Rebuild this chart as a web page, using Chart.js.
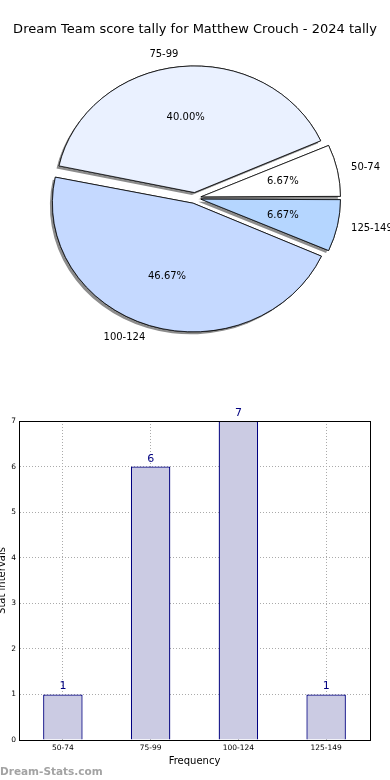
<!DOCTYPE html>
<html>
<head>
<meta charset="utf-8">
<script src="https://cdn.jsdelivr.net/npm/chart.js@4"></script>
<style>
  html, body { margin: 0; padding: 0; background: #fff; }
  body { width: 390px; height: 780px; position: relative; overflow: hidden; }
  #pieWrap { position: absolute; left: 0; top: 0; width: 390px; height: 370px; }
  #barWrap { position: absolute; left: 0; top: 380px; width: 390px; height: 400px; }
</style>
</head>
<body>
<div id="pieWrap"><canvas id="pieChart" width="390" height="370"></canvas></div>
<div id="barWrap"><canvas id="barChart" width="390" height="400"></canvas></div>
<script>
const TITLE = 'Dream Team score tally for Matthew Crouch - 2024 tally';
const categories = ['50-74', '75-99', '100-124', '125-149'];
const counts = [1, 6, 7, 1];
const yTickMax = 7;

const FONT = '"DejaVu Sans", sans-serif';
const sliceColors = ['#ffffff', '#eaf1ff', '#c5d9ff', '#b5d6ff'];
const SY = 0.914; // matplotlib pie came out a bit squashed

// matplotlib draws counter-clockwise from 3 o'clock, chart.js clockwise,
// so feed the slices in reverse and start at 3 o'clock
const pieLabels = categories.slice().reverse();
const pieData = counts.slice().reverse();
const pieColors = sliceColors.slice().reverse();

const pieLook = {
  id: 'pieLook',
  beforeDatasetsDraw(chart) {
    const meta = chart.getDatasetMeta(0);
    const arc = meta.data[0];
    const ctx = chart.ctx;
    ctx.save();
    ctx.translate(arc.x, arc.y);
    ctx.scale(1, SY);
    ctx.translate(-arc.x, -arc.y);
    // first pass just for the drop shadows, the normal pass covers it
    ctx.save();
    ctx.shadowColor = 'rgba(0,0,0,0.45)';
    ctx.shadowOffsetX = -2.5;
    ctx.shadowOffsetY = 2.5;
    ctx.shadowBlur = 0;
    ctx.stroke = function () {
      const c = this.shadowColor;
      this.shadowColor = 'rgba(0,0,0,0)';
      CanvasRenderingContext2D.prototype.stroke.apply(this, arguments);
      this.shadowColor = c;
    };
    meta.data.forEach(a => a.draw(ctx));
    delete ctx.stroke;
    ctx.restore();
  },
  afterDatasetsDraw(chart) {
    const ctx = chart.ctx;
    ctx.restore();
    const meta = chart.getDatasetMeta(0);
    const data = chart.data.datasets[0].data;
    const total = data.reduce((a, b) => a + b, 0);
    ctx.save();
    ctx.fillStyle = '#000';
    ctx.textBaseline = 'middle';
    ctx.font = '10px ' + FONT;
    meta.data.forEach((arc, i) => {
      const p = arc.getProps(['x', 'y', 'startAngle', 'endAngle', 'outerRadius', 'circumference']);
      const mid = (p.startAngle + p.endAngle) / 2;
      const off = (arc.options.offset || 0) / 4;
      const r = p.outerRadius + off * (1 - Math.sin(Math.min(Math.PI, p.circumference)));
      const px = k => p.x + Math.cos(mid) * (off + r * k);
      const py = k => p.y + Math.sin(mid) * (off + r * k) * SY;
      ctx.textAlign = 'center';
      ctx.fillText((data[i] / total * 100).toFixed(2) + '%', px(0.6), py(0.6));
      ctx.textAlign = Math.cos(mid) > 0 ? 'left' : 'right';
      ctx.fillText(chart.data.labels[i], px(1.1), py(1.1));
    });
    ctx.font = '13px ' + FONT;
    ctx.textAlign = 'center';
    ctx.fillText(TITLE, 195, 30);
    ctx.restore();
  }
};

new Chart(document.getElementById('pieChart'), {
  type: 'pie',
  data: {
    labels: pieLabels,
    datasets: [{
      data: pieData,
      backgroundColor: pieColors,
      borderColor: '#000',
      borderWidth: 0.8,
      offset: 24
    }]
  },
  options: {
    responsive: false,
    animation: false,
    rotation: 90,
    radius: 136,
    layout: { padding: { top: 38, left: 2, right: 2, bottom: 12 } },
    plugins: { legend: { display: false }, tooltip: { enabled: false } },
    events: []
  },
  plugins: [pieLook]
});

const barLook = {
  id: 'barLook',
  afterDatasetsDraw(chart) {
    const ctx = chart.ctx;
    const meta = chart.getDatasetMeta(0);
    ctx.save();
    ctx.font = '11px ' + FONT;
    ctx.fillStyle = '#000080';
    ctx.textAlign = 'center';
    ctx.textBaseline = 'alphabetic';
    meta.data.forEach((bar, i) => {
      ctx.fillText(String(counts[i]), bar.x, bar.y - 5);
    });
    ctx.restore();
  },
  afterDraw(chart) {
    const ctx = chart.ctx;
    const a = chart.chartArea;
    ctx.save();
    ctx.strokeStyle = '#000';
    ctx.lineWidth = 1;
    ctx.strokeRect(Math.round(a.left) + 0.5, Math.round(a.top) + 0.5,
      Math.round(a.right - a.left), Math.round(a.bottom - a.top));
    ctx.font = 'bold 10.5px ' + FONT;
    ctx.fillStyle = '#a3a3a3';
    ctx.textAlign = 'left';
    ctx.textBaseline = 'alphabetic';
    ctx.fillText('Dream-Stats.com', 0, 395);
    ctx.restore();
  }
};

new Chart(document.getElementById('barChart'), {
  type: 'bar',
  data: {
    labels: categories,
    datasets: [{
      data: counts,
      backgroundColor: '#cbcbe3',
      borderColor: '#000080',
      borderWidth: 1.3,
      barPercentage: 0.45,
      categoryPercentage: 1
    }]
  },
  options: {
    responsive: false,
    animation: false,
    layout: { padding: { top: 41, right: 20, left: 0, bottom: 0 } },
    plugins: { legend: { display: false }, tooltip: { enabled: false } },
    events: [],
    scales: {
      x: {
        offset: true,
        z: 1,
        grid: { offset: false, color: '#aaaaaa', drawTicks: false },
        border: { color: '#000', dash: [1, 2] },
        ticks: { color: '#000', font: { family: FONT, size: 7.5 }, padding: 4, maxRotation: 0 },
        title: { display: true, text: 'Frequency', color: '#000', font: { family: FONT, size: 10 }, padding: { top: 0, bottom: 13 } },
        afterFit: s => { s.height = 40; }
      },
      y: {
        min: 0,
        max: yTickMax,
        z: 1,
        grid: { color: '#aaaaaa', drawTicks: false },
        border: { color: '#000', dash: [1, 2] },
        ticks: { stepSize: 1, color: '#000', font: { family: FONT, size: 7.5 }, padding: 3 },
        title: { display: true, text: 'Stat intervals', color: '#000', font: { family: FONT, size: 10 }, padding: { top: -4, bottom: 0 } },
        afterFit: s => { s.width = 19; }
      }
    }
  },
  plugins: [barLook]
});
</script>
</body>
</html>
